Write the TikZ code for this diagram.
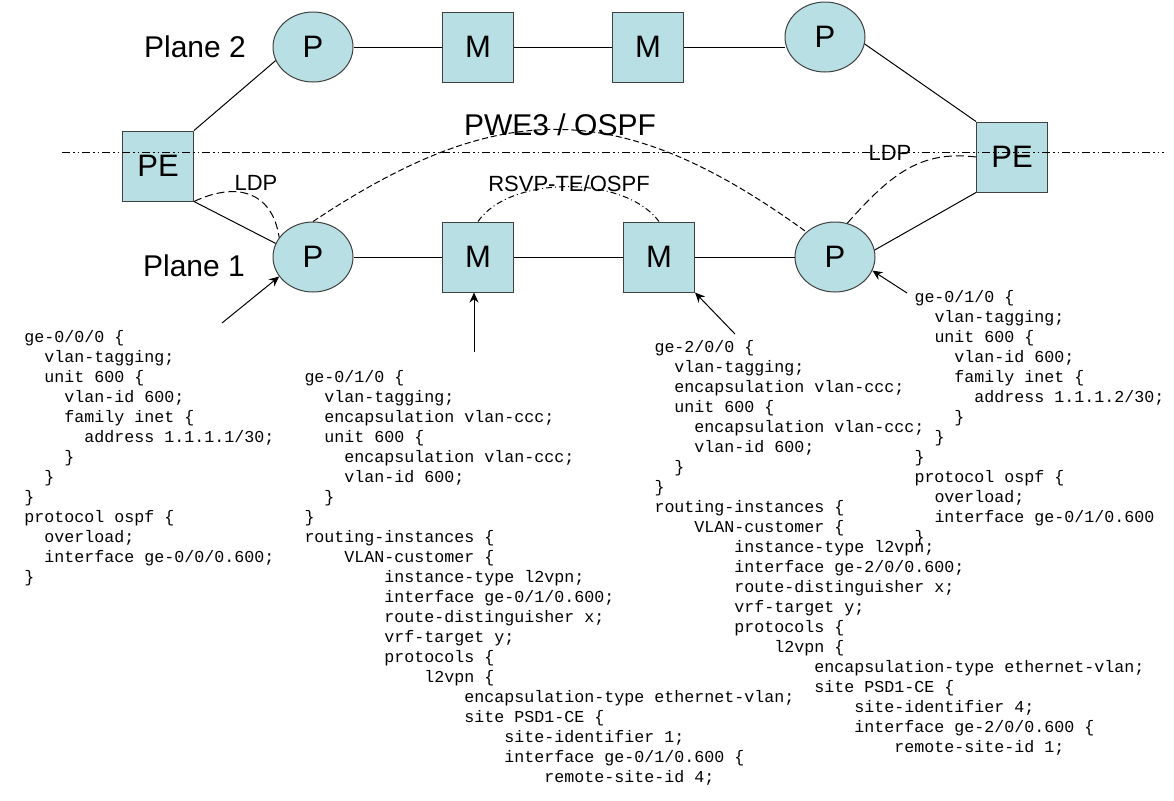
\documentclass[tikz,border=0pt]{standalone}
\usepackage{fontspec}
\setmainfont{Liberation Sans}
\setmonofont{Liberation Mono}
\usepackage{tikz}
\usetikzlibrary{arrows.meta, shapes.geometric, positioning}
\definecolor{nodecyan}{RGB}{184,223,227}
\newcommand{\ind}[1]{\hspace*{#1\dimexpr0.6em\relax}}

\begin{document}
\begin{tikzpicture}[x=0.5pt,y=-0.5pt,line width=0.5pt,
            pnode/.style={ellipse,draw=black!75,fill=nodecyan,minimum width=40pt,
                minimum height=35pt,inner sep=0pt,font=\fontsize{15.5}{16}\selectfont},
            mnode/.style={rectangle,draw=black!75,fill=nodecyan,minimum width=35.5pt,
                minimum height=35pt,inner sep=0pt,font=\fontsize{15.5}{16}\selectfont},
            bigtext/.style={inner sep=0pt,font=\fontsize{15}{16}\selectfont},
            smalltext/.style={inner sep=0pt,font=\fontsize{11}{12}\selectfont},
            codeblock/.style={anchor=north west,inner sep=0pt,align=left,
                font=\fontsize{8.33}{10}\selectfont\ttfamily},
            pointer/.style={-{Stealth[length=5pt,width=4.5pt]}},
            ldp/.style={dash pattern=on 4pt off 2pt},
            pwe/.style={dash pattern=on 3pt off 1.5pt},
            rsvp/.style={dash pattern=on 3pt off 1.5pt on 0.5pt off 1.5pt},
            planeline/.style={dash pattern=on 4pt off 1.5pt on 0.75pt off 1.5pt on 0.75pt off 1.5pt}]
            \useasboundingbox (0,0) rectangle (1174,800);

            % Define the nodes
            \node[pnode] (p2l) at (313,47)  {P};
            \node[mnode] (m1t) at (478,47)  {M};
            \node[mnode] (m2t) at (648,47)  {M};
            \node[pnode] (p2r) at (825,37)  {P};
            \node[mnode] (pel) at (158,166) {PE};
            \node[mnode] (per) at (1012,157) {PE};
            \node[pnode] (p1l) at (313,257) {P};
            \node[mnode] (m1b) at (478,257) {M};
            \node[mnode] (m2b) at (659,257) {M};
            \node[pnode] (p1r) at (835,257) {P};

            \node[bigtext] (plane2) at (195,47)  {Plane 2};
            \node[bigtext] (plane1) at (194,266) {Plane 1};
            \node[bigtext] (pwe3) at (560,125) {PWE3 / OSPF};
            \node[smalltext] (rsvpte) at (569,184) {RSVP-TE/OSPF};
            \node[smalltext] (ldpl) at (256,183) {LDP};
            \node[smalltext] (ldpr) at (890,153) {LDP};

            % Connect the nodes
            \draw (p2l) -- (m1t) -- (m2t);
            \draw (m2t.east) -- (m2t.east -| p2r.west);
            \draw (p1l) -- (m1b) -- (m2b) -- (p1r);
            \draw (pel.north east) -- (p2l.200);
            \draw (pel.south east) -- (p1l.160);
            \draw (p2r.350) -- (per.north west);
            \draw (p1r.10) -- (per.south west);

            \draw[pwe] (p1l.north) .. controls (500,97) and (620,97) .. (p1r.north west);
            \draw[rsvp] (m1b.north) .. controls (510,175) and (625,175) .. (m2b.north);
            \draw[ldp] (pel.south east) .. controls (235,182) and (272,190) .. (p1l.150);
            \draw[ldp] (p1r.70) .. controls (890,175) and (920,150) .. (per.west);

            % Plane separator
            \coordinate (sepl) at (62,152);
            \coordinate (sepr) at (1164,152);
            \draw[planeline] (sepl) -- (sepr);

            % Config pointers
            \coordinate (a1) at (222,323);
            \coordinate (a2) at (474,352);
            \coordinate (a3) at (735,334);
            \coordinate (a4) at (907,293);
            \draw[pointer] (a1) -- (p1l.210);
            \draw[pointer] (a2) -- (a2 |- m1b.south);
            \draw[pointer] (a3) -- (m2b.south east);
            \draw[pointer] (a4) -- (p1r.340);

            % Config blocks
            \node[codeblock] (cfga) at (24,330) {ge-0/0/0 \{\\
                \ind{2}vlan-tagging;\\
                \ind{2}unit 600 \{\\
                \ind{4}vlan-id 600;\\
                \ind{4}family inet \{\\
                \ind{6}address 1.1.1.1/30;\\
                \ind{4}\}\\
                \ind{2}\}\\
                \}\\
                protocol ospf \{\\
                \ind{2}overload;\\
                \ind{2}interface ge-0/0/0.600;\\
                \}};

            \node[codeblock] (cfgb) at (304,370) {ge-0/1/0 \{\\
                \ind{2}vlan-tagging;\\
                \ind{2}encapsulation vlan-ccc;\\
                \ind{2}unit 600 \{\\
                \ind{4}encapsulation vlan-ccc;\\
                \ind{4}vlan-id 600;\\
                \ind{2}\}\\
                \}\\
                routing-instances \{\\
                \ind{4}VLAN-customer \{\\
                \ind{8}instance-type l2vpn;\\
                \ind{8}interface ge-0/1/0.600;\\
                \ind{8}route-distinguisher x;\\
                \ind{8}vrf-target y;\\
                \ind{8}protocols \{\\
                \ind{12}l2vpn \{\\
                \ind{16}encapsulation-type ethernet-vlan;\\
                \ind{16}site PSD1-CE \{\\
                \ind{20}site-identifier 1;\\
                \ind{20}interface ge-0/1/0.600 \{\\
                \ind{24}remote-site-id 4;};

            \node[codeblock] (cfgc) at (654,340) {ge-2/0/0 \{\\
                \ind{2}vlan-tagging;\\
                \ind{2}encapsulation vlan-ccc;\\
                \ind{2}unit 600 \{\\
                \ind{4}encapsulation vlan-ccc;\\
                \ind{4}vlan-id 600;\\
                \ind{2}\}\\
                \}\\
                routing-instances \{\\
                \ind{4}VLAN-customer \{\\
                \ind{8}instance-type l2vpn;\\
                \ind{8}interface ge-2/0/0.600;\\
                \ind{8}route-distinguisher x;\\
                \ind{8}vrf-target y;\\
                \ind{8}protocols \{\\
                \ind{12}l2vpn \{\\
                \ind{16}encapsulation-type ethernet-vlan;\\
                \ind{16}site PSD1-CE \{\\
                \ind{20}site-identifier 4;\\
                \ind{20}interface ge-2/0/0.600 \{\\
                \ind{24}remote-site-id 1;};

            \node[codeblock] (cfgd) at (914,290) {ge-0/1/0 \{\\
                \ind{2}vlan-tagging;\\
                \ind{2}unit 600 \{\\
                \ind{4}vlan-id 600;\\
                \ind{4}family inet \{\\
                \ind{6}address 1.1.1.2/30;\\
                \ind{4}\}\\
                \ind{2}\}\\
                \}\\
                protocol ospf \{\\
                \ind{2}overload;\\
                \ind{2}interface ge-0/1/0.600\\
                \}};
\end{tikzpicture}
\end{document}
